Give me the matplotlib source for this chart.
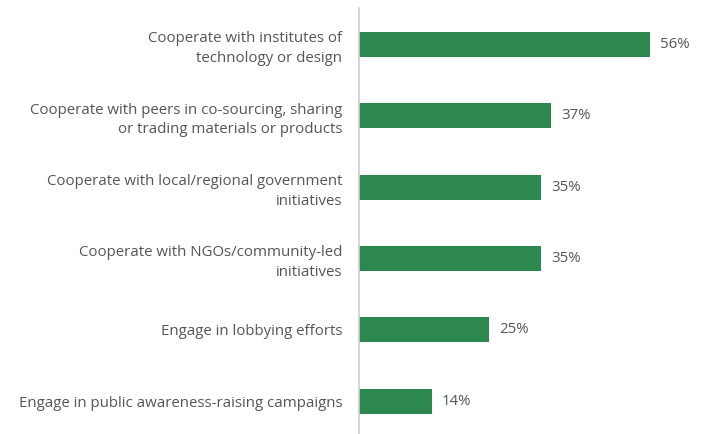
import matplotlib.pyplot as plt

# Данные
labels = [
    "Cooperate with institutes of\ntechnology or design",
    "Cooperate with peers in co-sourcing, sharing\nor trading materials or products",
    "Cooperate with local/regional government\ninitiatives",
    "Cooperate with NGOs/community-led\ninitiatives",
    "Engage in lobbying efforts",
    "Engage in public awareness-raising campaigns",
]
values = [56, 37, 35, 35, 25, 14]

bar_color = "#2d8850"
text_color = "#555555"

plt.rcParams['font.family'] = ['Open Sans', 'DejaVu Sans']

fig = plt.figure(figsize=(7.07, 4.34), dpi=100)
ax = fig.add_axes([359 / 707, 0, 338 / 707, 426 / 434])

y = list(range(len(values)))
ax.barh(y, values, height=0.35, color=bar_color)

for yi, v in zip(y, values):
    ax.text(v + 1.9, yi, f"{v}%", va='center', ha='left',
            fontsize=10.8, color=text_color)

ax.set_yticks(y)
ax.set_yticklabels(labels, fontsize=10.8, color=text_color, linespacing=1.4)
ax.tick_params(axis='y', length=0, pad=12)
ax.set_xticks([])
ax.set_xlim(0, 65)
ax.set_ylim(5.46, -0.51)

for s in ['top', 'right', 'bottom']:
    ax.spines[s].set_visible(False)
ax.spines['left'].set_color('#d0d0d0')
ax.spines['left'].set_linewidth(1.2)

fig.savefig("out.png", dpi=100)
